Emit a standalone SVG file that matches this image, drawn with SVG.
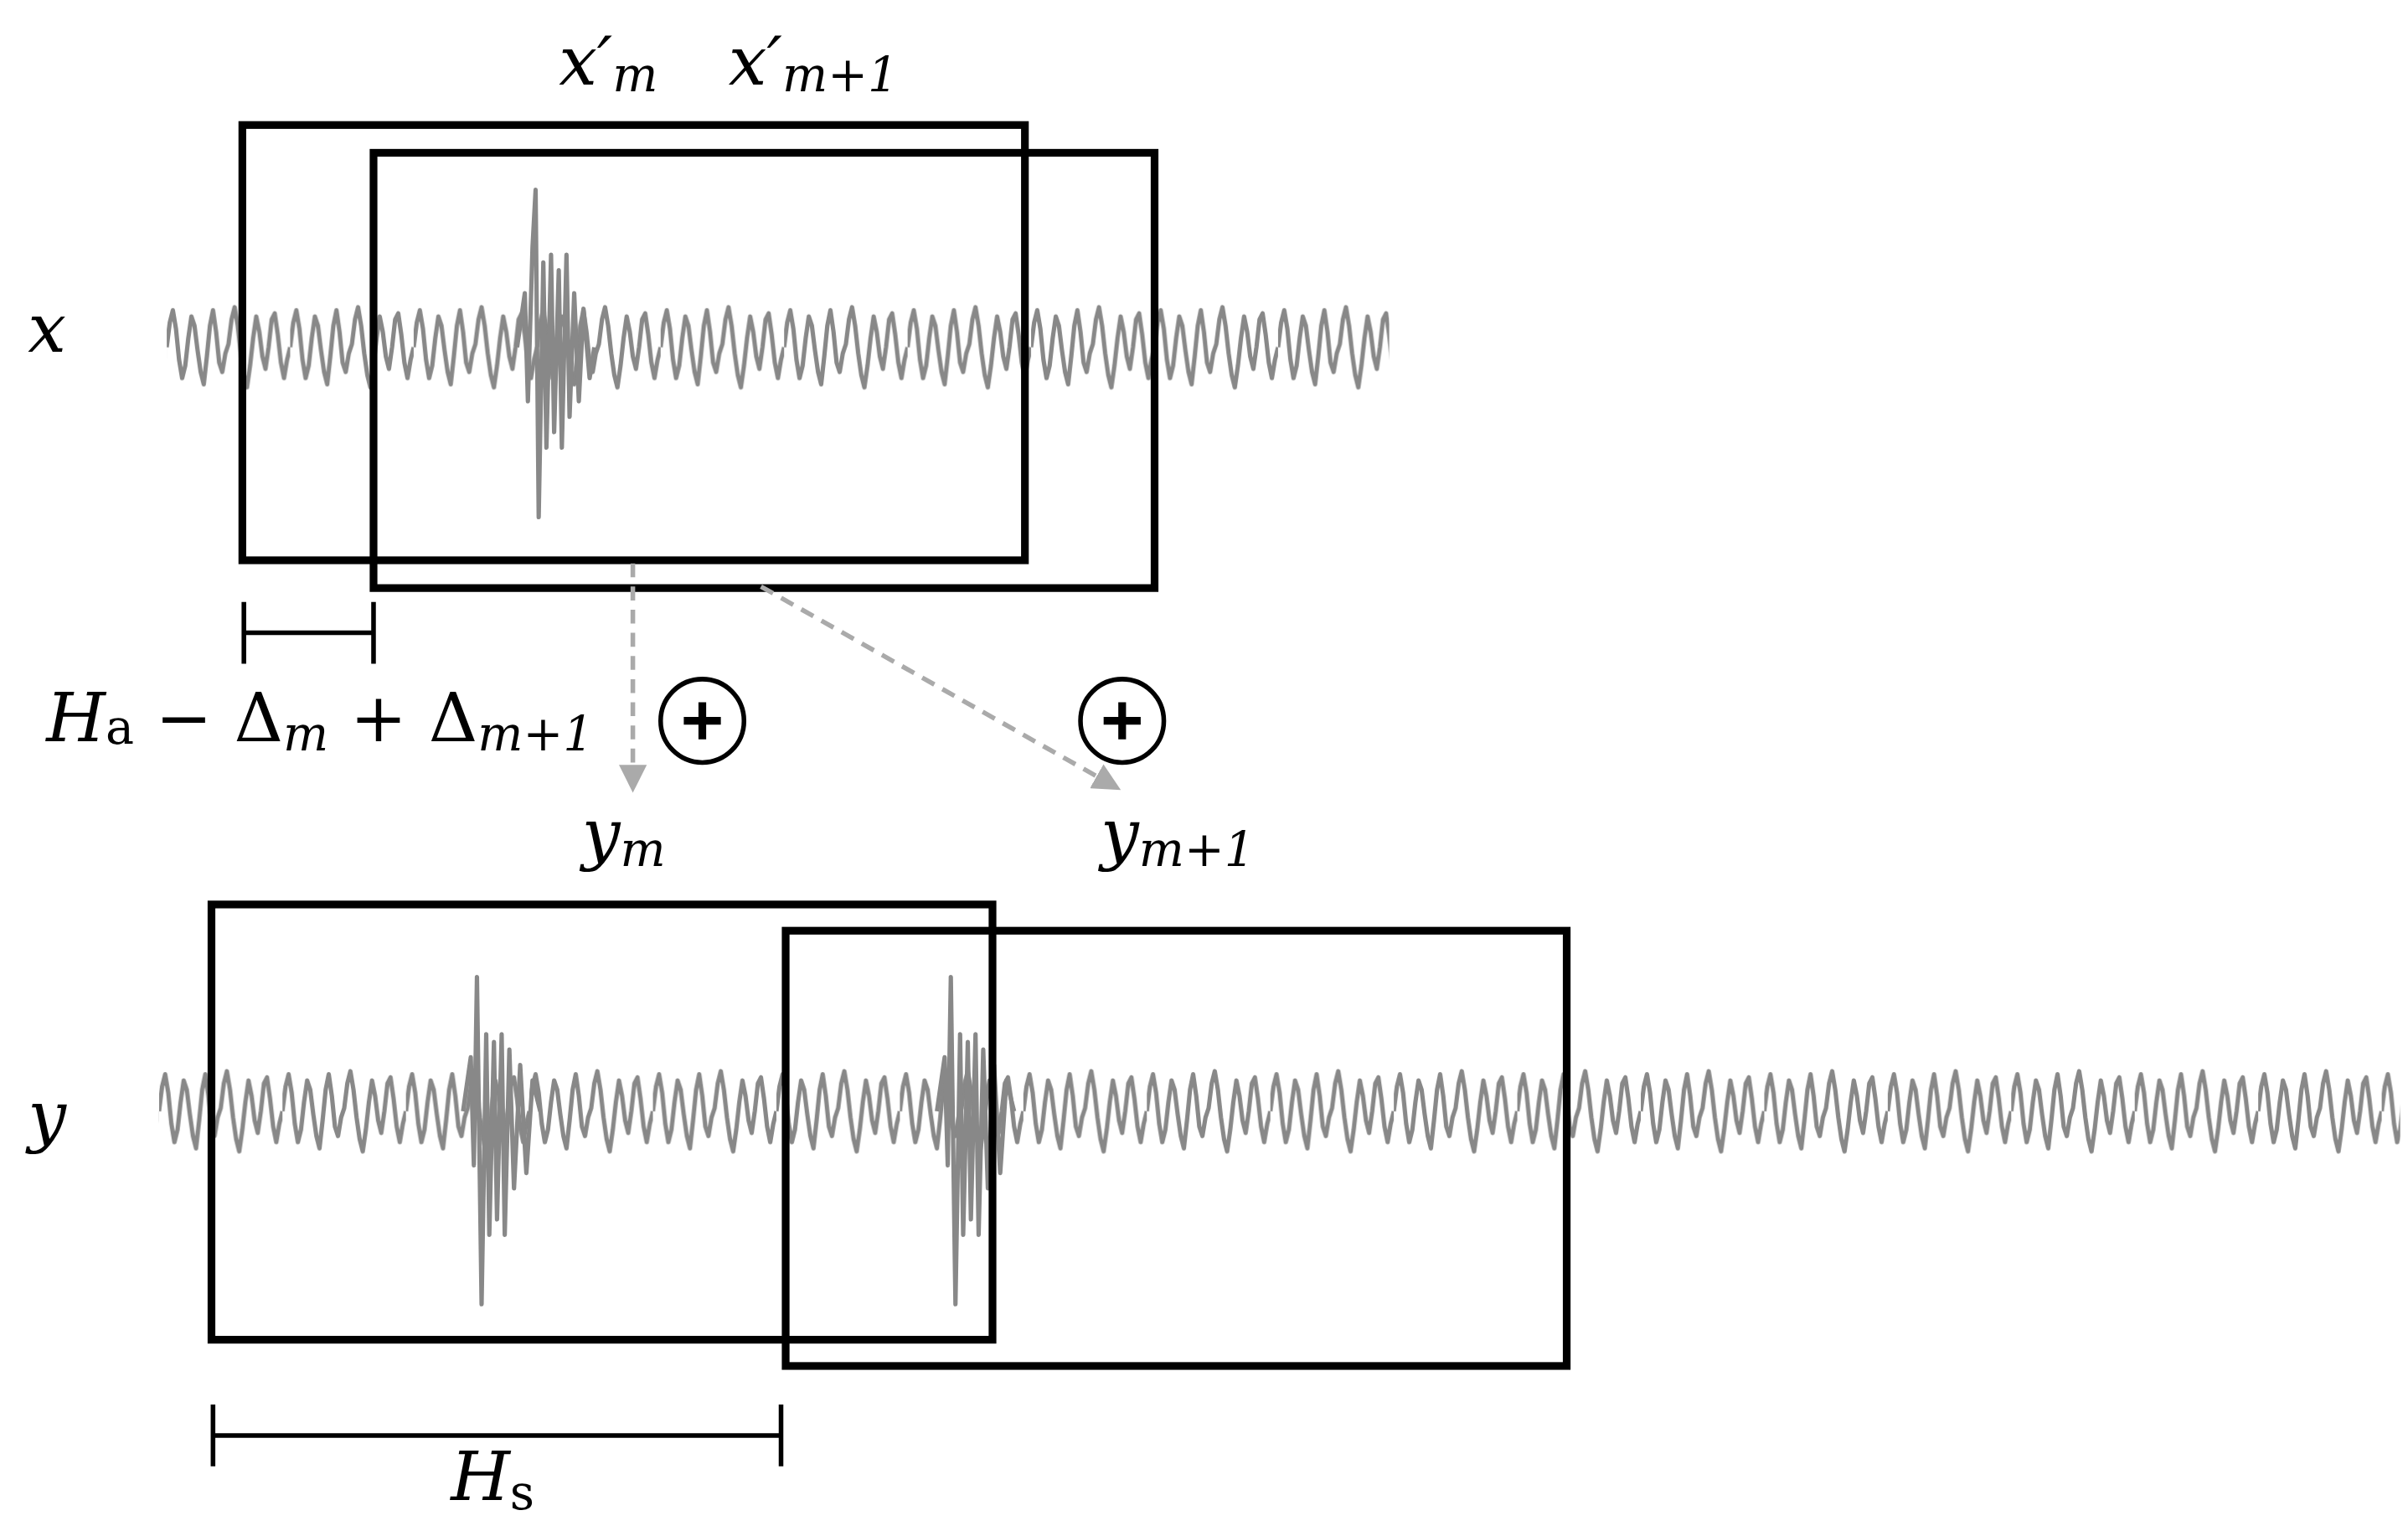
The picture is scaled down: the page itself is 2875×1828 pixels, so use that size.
<svg xmlns="http://www.w3.org/2000/svg" width="2875" height="1828" viewBox="0 0 2875 1828">
<style>
.box{fill:none;stroke:#000;stroke-width:5}
.br{fill:none;stroke:#000;stroke-width:3}
.wave{fill:none;stroke:#888;stroke-width:2.8;stroke-linejoin:round}
.dash{fill:none;stroke:#aaa;stroke-width:3;stroke-dasharray:9,6}
.m{font-family:"DejaVu Serif","Liberation Serif",serif;font-style:italic;font-size:44px}
.r{font-family:"DejaVu Serif","Liberation Serif",serif;font-size:44px}
.sub{font-size:31px}
</style>
<defs>
<path id="seg" class="wave" d="M0,40 L2,24 4,16 6,28 8,48 10,60 12,52 14,34 16,20 18,26 20,42 22,56 24,64 26,46 28,26 30,16 32,30 34,50 36,56 38,44 40,38 42,22 44,14 46,26 48,44 50,58 52,66 54,52 56,34 58,20 60,30 62,46 64,54 66,40 68,22 70,18 72,32 74,50 76,60 78,48 80,40"/>
<pattern id="wv1" patternUnits="userSpaceOnUse" x="108" y="185" width="80" height="80"><use href="#seg"/></pattern>
<pattern id="wv2" patternUnits="userSpaceOnUse" x="103" y="680" width="80" height="80"><use href="#seg"/></pattern>
<marker id="ah" viewBox="0 0 10 10" refX="8" refY="5" markerWidth="6" markerHeight="6" orient="auto"><path d="M0,0 L10,5 0,10z" fill="#aaa"/></marker>
</defs>
<rect width="2875" height="1828" fill="#fff"/>
<g transform="scale(1.8429)">
<g id="signal-x">
<rect x="108" y="185" width="792" height="80" fill="url(#wv1)"/>
<path class="wave" d="M335,225 L340,190 342,260 345,160 347,123 349,335 352,170 354,290 357,165 359,280 362,175 364,290 367,165 369,270 372,190 375,260 378,200 382,245 385,225"/>
<text class="m" x="18" y="228">x</text>
</g>
<g id="signal-y">
<rect x="103" y="680" width="1452" height="80" fill="url(#wv2)"/>
<path class="wave" d="M300,720 L305,685 307,755 309,633 312,845 315,670 317,800 320,675 322,790 325,670 327,800 330,680 333,770 337,690 341,760 345,700 350,720"/>
<path class="wave" d="M607,720 L612,685 614,755 616,633 619,845 622,670 624,800 627,675 629,790 632,670 634,800 637,680 640,770 644,690 648,760 652,700 657,720"/>
<text class="m" x="18" y="738">y</text>
</g>
<g id="frames-x">
<rect class="box" x="157" y="81" width="507" height="282"/>
<rect class="box" x="242" y="99" width="506" height="282"/>
<text class="m" x="362" y="55">x′<tspan class="sub" dy="4">m</tspan></text>
<text class="m" x="472" y="55">x′<tspan class="sub" dy="4">m+1</tspan></text>
</g>
<g id="frames-y">
<rect class="box" x="137" y="586" width="506" height="282"/>
<rect class="box" x="509" y="603" width="506" height="282"/>
<text class="m" x="377" y="555">y<tspan class="sub" dy="6">m</tspan></text>
<text class="m" x="713" y="555">y<tspan class="sub" dy="6">m+1</tspan></text>
</g>
<g id="hop-a">
<path class="br" d="M158,390 V430 M242,390 V430 M158,410 H242"/>
<text class="r" x="30" y="480"><tspan class="m">H</tspan><tspan class="sub" dy="2">a</tspan><tspan dy="-2"> − Δ</tspan><tspan class="m sub" dy="6">m</tspan><tspan dy="-6"> + Δ</tspan><tspan class="m sub" dy="6">m+1</tspan></text>
</g>
<g id="hop-s">
<path class="br" d="M138,910 V950 M506,910 V950 M138,930 H506"/>
<text class="r" x="292" y="972"><tspan class="m">H</tspan><tspan class="sub" dy="6">s</tspan></text>
</g>
<g id="add1"><circle cx="455" cy="467" r="27" fill="#fff" stroke="#000" stroke-width="3"/><path d="M455,455 V479 M443,467 H467" stroke="#000" stroke-width="5"/></g>
<g id="add2"><circle cx="727" cy="467" r="27" fill="#fff" stroke="#000" stroke-width="3"/><path d="M727,455 V479 M715,467 H739" stroke="#000" stroke-width="5"/></g>
<g id="connectors">
<path class="dash" d="M410,365 V510" marker-end="url(#ah)"/>
<path class="dash" d="M493,380 L723,510" marker-end="url(#ah)"/>
</g>
</g>
</svg>
